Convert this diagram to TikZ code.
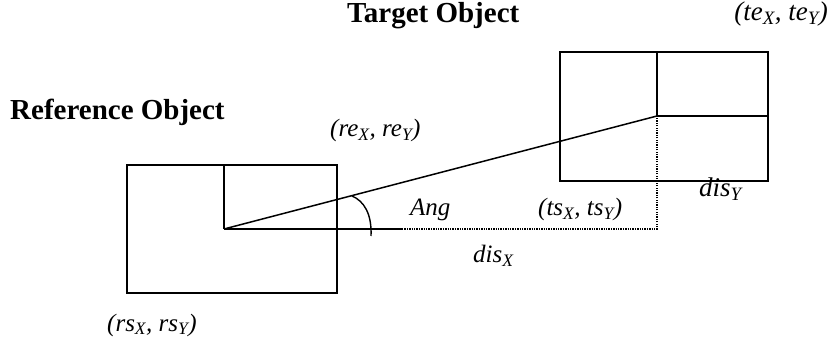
\documentclass[tikz,border=0pt]{standalone}
\usepackage{fontspec}
\setmainfont{Liberation Serif}
\newcommand{\lowidx}[1]{\textsubscript{\itshape #1}}
\begin{document}
\begin{tikzpicture}[x=1pt,y=-1pt,
  frame/.style={line width=1.5pt},
  link/.style={line width=1.5pt},
  guide/.style={line width=1.3pt,dash pattern=on 1.3pt off 1.1pt},
  title/.style={font=\fontsize{29}{29}\selectfont\bfseries,anchor=base west,inner sep=0pt},
  lbl/.style={font=\fontsize{#1}{#1}\selectfont\itshape,anchor=base west,inner sep=0pt},
  lbl/.default=25]
\useasboundingbox (0,0) rectangle (836,339);

% reference object box
\draw[frame] (127,165) rectangle (337,293);
\coordinate (rc) at (224,229);
\draw[frame] (224,165) -- (rc);

% target object box
\draw[frame] (560,52) rectangle (768,181);
\coordinate (tc) at (657,116);
\draw[frame] (657,52) -- (tc) -- (768,116);

% connecting line and projections
\coordinate (hs) at (402,229);
\coordinate (hc) at (657,229);
\draw[link] (rc) -- (tc);
\draw[link] (rc) -- (hs);
\draw[guide] (hs) -- (hc) -- (tc);

% angle mark
\draw[line width=1.4pt] (352,196) .. controls (364,201) and (372,214) .. (371,236);

% labels
\node[title] (tt) at (347,23) {Target Object};
\node[title] (rt) at (10,120) {Reference Object};
\node[lbl=27,anchor=base east] (te) at (828,21) {(te\lowidx{X}, te\lowidx{Y})};
\node[lbl] (re) at (330,137) {(re\lowidx{X}, re\lowidx{Y})};
\node[lbl] (ang) at (410,216) {Ang};
\node[lbl] (ts) at (538,216) {(ts\lowidx{X}, ts\lowidx{Y})};
\node[lbl=27] (dy) at (699,197) {dis\lowidx{Y}};
\node[lbl] (dx) at (473,263) {dis\lowidx{X}};
\node[lbl] (rs) at (107,331) {(rs\lowidx{X}, rs\lowidx{Y})};
\end{tikzpicture}
\end{document}
